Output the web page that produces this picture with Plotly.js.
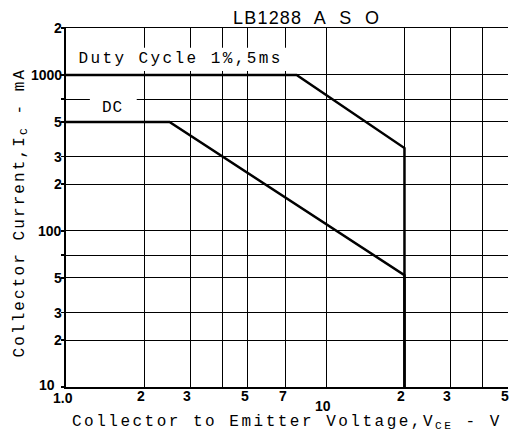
<!DOCTYPE html>
<html>
<head>
<meta charset="utf-8">
<script src="https://cdn.plot.ly/plotly-3.0.1.min.js"></script>
<style>html,body{margin:0;padding:0;background:#fff;}</style>
</head>
<body>
<div id="chart" style="width:510px;height:443px;"></div>
<script>
// ---- data ----
const xGridVals = [1, 2, 3, 4, 5, 7, 10, 20, 30, 40, 50];
const xLabelVals = [1, 2, 3, 5, 7, 10, 20, 30, 50];
const xLabelText = ['1.0', '2', '3', '5', '7', '10', '2', '3', '5'];
const yGridVals = [10, 20, 30, 50, 70, 100, 200, 300, 500, 700, 1000, 2000];
const yLabelVals = [10, 20, 30, 50, 100, 200, 300, 500, 1000, 2000];
const yLabelText = ['10', '2', '3', '5', '100', '2', '3', '5', '1000', '2'];

const dcVce = [1, 2.5, 20, 20];
const dcIc = [500, 500, 52, 10];
const pulseVce = [1, 7.7, 20, 20];
const pulseIc = [1000, 1000, 340, 10];

const titleText = 'LB1288\u00a0 A\u00a0 S\u00a0 O';
const pulseLabel = 'Duty Cycle 1%,5ms';
const dcLabel = 'DC';
const xTitle = 'Collector to Emitter Voltage,V<sub>CE</sub> - V';
const yTitle = 'Collector Current,I<sub>C</sub> - mA';

// ---- chart ----
const mono = 'Liberation Mono, Courier New, monospace';
const narrow = 'Liberation Sans Narrow, Liberation Sans, Arial, sans-serif';

const traces = [
  {x: pulseVce, y: pulseIc, mode: 'lines', line: {color: '#000', width: 2.5}, hoverinfo: 'none'},
  {x: dcVce, y: dcIc, mode: 'lines', line: {color: '#000', width: 2.5}, hoverinfo: 'none'}
];

const annotations = [];
xLabelVals.forEach((v, i) => {
  const t = xLabelText[i];
  let ys = -9;
  if (t === '10') ys = -19;
  if (t === '1.0') ys = -11;
  annotations.push({
    xref: 'x', yref: 'paper', x: Math.log10(v), y: 0, text: t, showarrow: false,
    xanchor: 'center', yanchor: 'middle', yshift: ys, xshift: -3,
    font: {family: narrow, size: 14, color: '#000', weight: 'bold'}
  });
});
yLabelVals.forEach((v, i) => {
  const t = yLabelText[i];
  annotations.push({
    xref: 'paper', yref: 'y', x: 0, y: Math.log10(v), text: t, showarrow: false,
    xanchor: 'right', yanchor: 'middle', xshift: i === 0 ? -9 : -2, yshift: i === 0 ? 2 : 0,
    font: {family: narrow, size: 14, color: '#000', weight: 'bold'}
  });
});
annotations.push({xref: 'paper', yref: 'paper', x: 0.545, y: 1.028, text: titleText, showarrow: false,
  xanchor: 'center', yanchor: 'middle', font: {family: narrow, size: 18, color: '#000'}});
annotations.push({xref: 'paper', yref: 'paper', x: 0.258, y: 0.914, text: pulseLabel, showarrow: false,
  xanchor: 'center', yanchor: 'middle', font: {family: mono, size: 16, color: '#000'}});
annotations.push({xref: 'paper', yref: 'paper', x: 0.106, y: 0.777, text: dcLabel, showarrow: false,
  xanchor: 'center', yanchor: 'middle', font: {family: mono, size: 16, color: '#000'}});
annotations.push({xref: 'paper', yref: 'paper', x: 0.501, y: -0.1, text: xTitle, showarrow: false,
  xanchor: 'center', yanchor: 'middle', font: {family: mono, size: 16, color: '#000'}});
annotations.push({xref: 'paper', yref: 'paper', x: -0.104, y: 0.487, text: yTitle, showarrow: false,
  textangle: -90, xanchor: 'center', yanchor: 'middle', font: {family: mono, size: 16, color: '#000'}});

const shapes = [
  {type: 'rect', xref: 'paper', yref: 'paper', x0: 0.014, x1: 0.502, y0: 0.88, y1: 0.945,
   fillcolor: '#fff', line: {width: 0}, layer: 'above'},
  {type: 'rect', xref: 'paper', yref: 'paper', x0: 0.054, x1: 0.16, y0: 0.748, y1: 0.81,
   fillcolor: '#fff', line: {width: 0}, layer: 'above'}
];

const layout = {
  width: 510, height: 443,
  margin: {l: 66, r: 2, t: 28, b: 56},
  paper_bgcolor: '#fff', plot_bgcolor: '#fff',
  showlegend: false,
  xaxis: {
    type: 'log', range: [0, Math.log10(50)], tickmode: 'array', tickvals: xGridVals,
    showticklabels: false, showgrid: true, gridcolor: '#000', gridwidth: 1,
    showline: true, linecolor: '#000', linewidth: 1.5, mirror: true, ticks: '', zeroline: false
  },
  yaxis: {
    type: 'log', range: [1, Math.log10(2000)], tickmode: 'array', tickvals: yGridVals,
    showticklabels: false, showgrid: true, gridcolor: '#000', gridwidth: 1,
    showline: true, linecolor: '#000', linewidth: 2, mirror: false, ticks: 'outside', ticklen: 3,
    tickcolor: '#000', tickwidth: 1.5, zeroline: false
  },
  annotations: annotations,
  shapes: shapes
};

Plotly.newPlot('chart', traces, layout, {staticPlot: true}).then(() => {
  document.querySelectorAll('.annotation-text').forEach(el => {
    const txt = el.textContent;
    if (txt.startsWith('Collector to')) el.style.letterSpacing = '2.5px';
    else if (txt.startsWith('Collector Current')) el.style.letterSpacing = '2.1px';
    else if (txt === pulseLabel) el.style.letterSpacing = '2.4px';
    else if (txt === dcLabel) el.style.letterSpacing = '1px';
    else if (txt.startsWith('LB1288')) el.style.letterSpacing = '1.2px';
  });
});
</script>
</body>
</html>
